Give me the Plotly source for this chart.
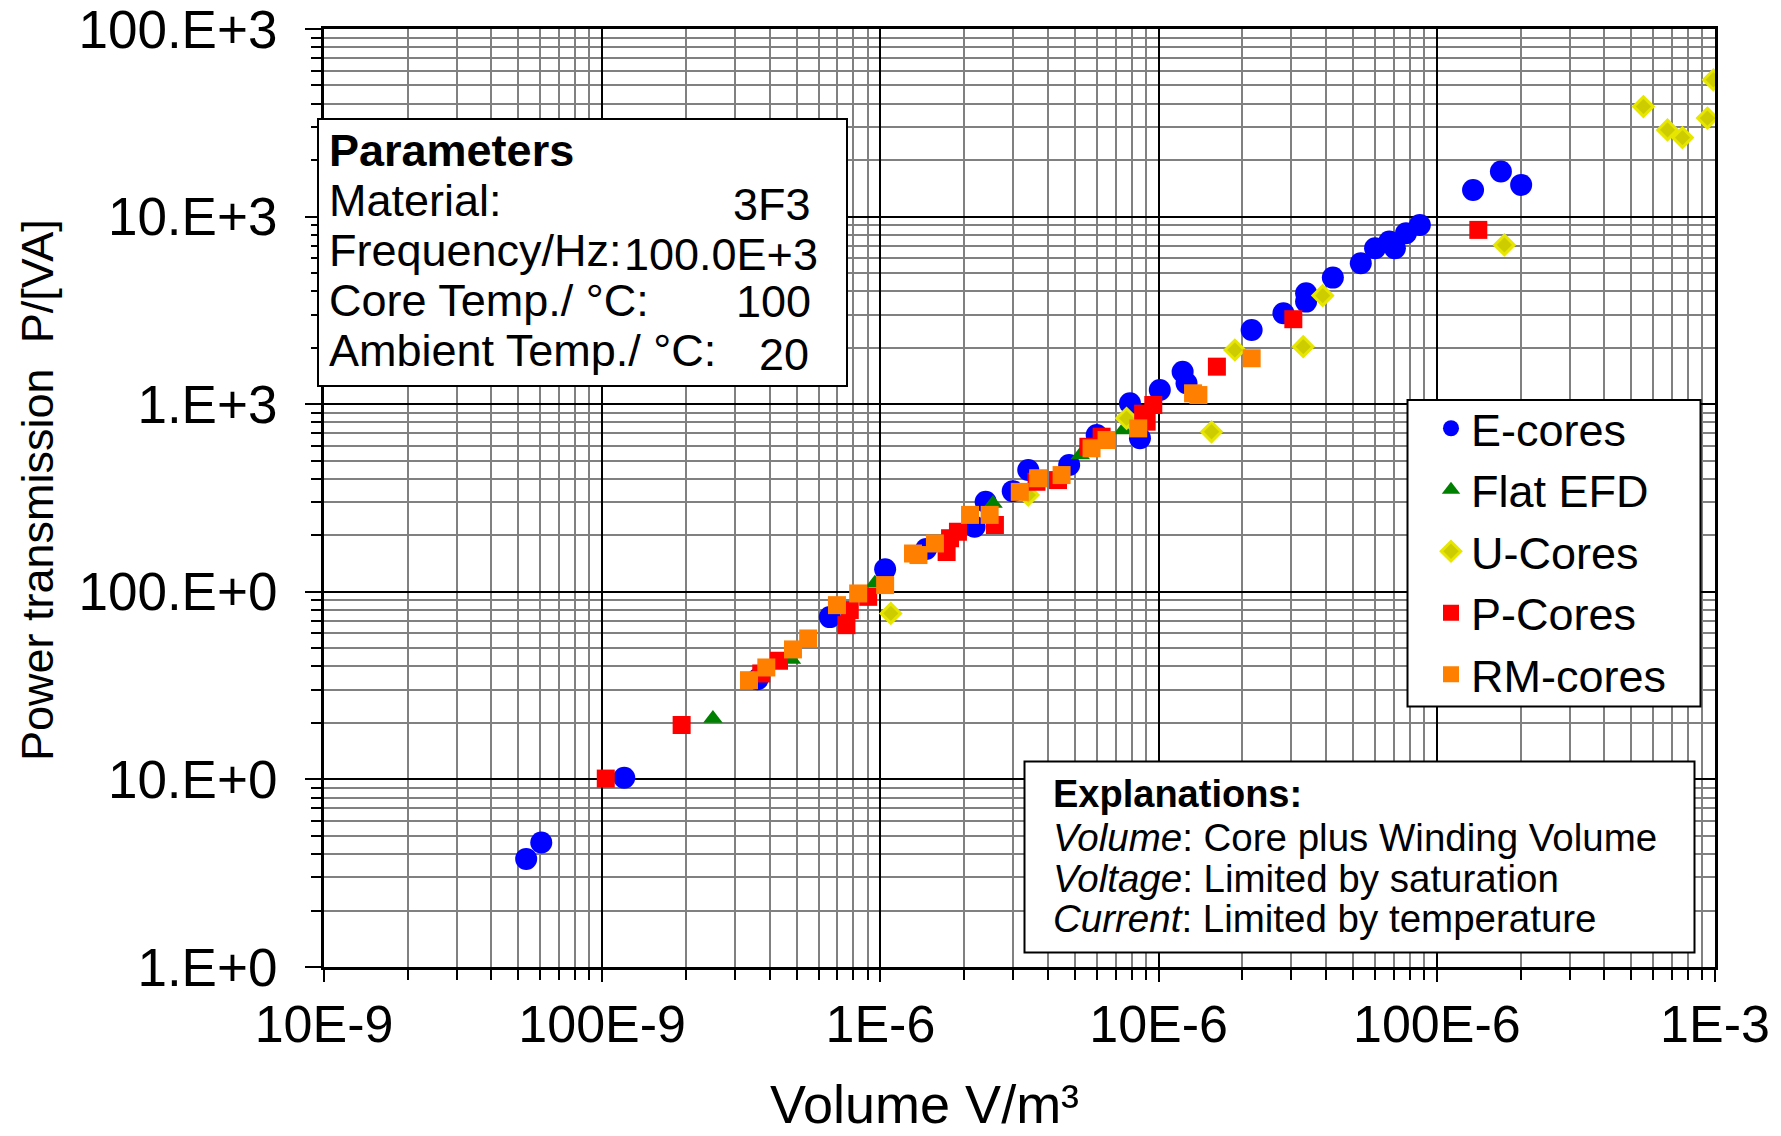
import plotly.graph_objects as go

# ---------------- data ----------------
e_vol = [5.33e-8, 6.04e-8, 1.20e-7, 3.62e-7, 6.58e-7, 1.04e-6, 1.46e-6, 2.18e-6, 2.39e-6, 2.99e-6,
         3.40e-6, 4.77e-6, 5.99e-6, 7.89e-6, 8.57e-6, 1.01e-5, 1.22e-5, 1.26e-5, 2.16e-5, 2.81e-5,
         3.39e-5, 3.39e-5, 4.23e-5, 5.33e-5, 6.00e-5, 6.75e-5, 7.07e-5, 7.75e-5, 8.69e-5, 1.35e-4,
         1.70e-4, 2.01e-4]
e_pow = [3.77, 4.61, 10.2, 34.2, 73.3, 132, 169, 222, 302, 344,
         446, 474, 685, 1011, 658, 1191, 1490, 1292, 2488, 3053,
         3900, 3523, 4729, 5639, 6781, 7360, 6781, 8150, 9030, 13870,
         17380, 14760]

efd_vol = [2.50e-7, 4.79e-7, 9.55e-7, 2.54e-6, 5.23e-6, 7.46e-6]
efd_pow = [21.1, 43.6, 111, 296, 536, 728]

u_vol = [1.09e-6, 3.40e-6, 7.67e-6, 1.55e-5, 1.88e-5, 3.31e-5, 3.89e-5, 1.75e-4,
         5.53e-4, 6.75e-4, 7.64e-4, 9.39e-4, 9.87e-4]
u_pow = [76.7, 328, 841, 713, 1945, 2026, 3793, 7063,
         38600, 28990, 26370, 33500, 53600]

p_vol = [1.03e-7, 1.93e-7, 3.73e-7, 4.32e-7, 7.55e-7, 7.76e-7, 9.04e-7, 1.73e-6, 1.78e-6, 1.90e-6,
         2.58e-6, 3.64e-6, 4.35e-6, 5.59e-6, 6.24e-6, 8.80e-6, 9.06e-6, 9.57e-6, 1.62e-5, 3.05e-5,
         1.41e-4]
p_pow = [10.1, 19.5, 36.7, 42.9, 66.4, 79.9, 94, 163, 193, 209,
         227, 386, 394, 593, 671, 890, 807, 990, 1585, 2838,
         8495]

rm_vol = [3.37e-7, 3.89e-7, 4.85e-7, 5.50e-7, 6.98e-7, 8.32e-7, 1.04e-6, 1.31e-6, 1.37e-6, 1.57e-6,
          2.10e-6, 2.47e-6, 3.17e-6, 3.69e-6, 4.48e-6, 5.74e-6, 6.50e-6, 8.45e-6, 1.33e-5, 1.39e-5,
          2.16e-5]
rm_pow = [33.8, 39.5, 49.3, 56.4, 84.9, 98, 108.6, 160, 157, 181,
          257, 257, 341, 403, 419, 582, 644, 743, 1143, 1119,
          1757]

x_tickvals = [1e-8, 1e-7, 1e-6, 1e-5, 1e-4, 1e-3]
x_ticktext = ["10E-9", "100E-9", "1E-6", "10E-6", "100E-6", "1E-3"]
y_tickvals = [1, 10, 100, 1e3, 1e4, 1e5]
y_ticktext = ["1.E+0", "10.E+0", "100.E+0", "1.E+3", "10.E+3", "100.E+3"]

param_labels = ["Material:", "Frequency/Hz:", "Core Temp./ °C:", "Ambient Temp./ °C:"]
param_values = ["3F3", "100.0E+3", "100", "20"]
expl_lines = ["<i>Volume</i>: Core plus Winding Volume",
              "<i>Voltage</i>: Limited by saturation",
              "<i>Current</i>: Limited by temperature"]

# ---------------- layout helpers ----------------
W, H = 1781, 1136
L, R, T, B = 324, 1715, 29, 967
FONT = "Arial, Liberation Sans, sans-serif"


def px(x):
    return (x - L) / (R - L)


def py(y):
    return (B - y) / (B - T)


minor_x = [k * 10.0 ** e for e in range(-8, -3) for k in range(2, 10)]
minor_y = [k * 10.0 ** e for e in range(0, 5) for k in range(2, 10)]

fig = go.Figure()
fig.add_trace(go.Scatter(x=e_vol, y=e_pow, mode="markers", name="E-cores",
                         marker=dict(symbol="circle", size=22, color="#0000ff")))
fig.add_trace(go.Scatter(x=efd_vol, y=efd_pow, mode="markers", name="Flat EFD",
                         marker=dict(symbol="triangle-up", size=17, color="#008000")))
fig.add_trace(go.Scatter(x=u_vol, y=u_pow, mode="markers", name="U-Cores",
                         marker=dict(symbol="diamond", size=15, color="#cccc00",
                                     line=dict(color="#e6e600", width=3))))
fig.add_trace(go.Scatter(x=p_vol, y=p_pow, mode="markers", name="P-Cores",
                         marker=dict(symbol="square", size=18, color="#ff0000")))
fig.add_trace(go.Scatter(x=rm_vol, y=rm_pow, mode="markers", name="RM-cores",
                         marker=dict(symbol="square", size=18, color="#ff8000")))

axis_common = dict(
    type="log", showline=True, linecolor="black", linewidth=3, mirror=True,
    showgrid=True, gridcolor="black", gridwidth=2,
    ticks="outside", tickwidth=2, tickcolor="black",
    zeroline=False, automargin=False, ticklabeloverflow="allow",
)

fig.update_xaxes(range=[-8, -3], tickvals=x_tickvals, ticktext=x_ticktext,
                 ticklen=12, ticklabelstandoff=-2,
                 tickfont=dict(family=FONT, size=52, color="black"),
                 minor=dict(tickvals=minor_x, showgrid=True, gridcolor="#808080", gridwidth=2,
                            ticks="outside", ticklen=10, tickwidth=1.5, tickcolor="black"),
                 **axis_common)
fig.update_yaxes(range=[0, 5], tickvals=y_tickvals, ticktext=y_ticktext,
                 ticklen=16, ticklabelstandoff=17,
                 tickfont=dict(family=FONT, size=53, color="black"),
                 minor=dict(tickvals=minor_y, showgrid=True, gridcolor="#808080", gridwidth=2,
                            ticks="outside", ticklen=10, tickwidth=1.5, tickcolor="black"),
                 **axis_common)

shapes = [
    # Parameters box
    dict(type="rect", xref="paper", yref="paper", x0=px(318), x1=px(847), y0=py(386), y1=py(119),
         fillcolor="white", line=dict(color="black", width=2), layer="above"),
    # Explanations box
    dict(type="rect", xref="paper", yref="paper", x0=px(1024.5), x1=px(1694.5), y0=py(952.5), y1=py(761.5),
         fillcolor="white", line=dict(color="black", width=2), layer="above"),
    # Legend box
    dict(type="rect", xref="paper", yref="paper", x0=px(1407.5), x1=px(1700.5), y0=py(706.5), y1=py(400),
         fillcolor="white", line=dict(color="black", width=2), layer="above"),
]

annotations = []


def note(text, x, y, size, xanchor="left", **kw):
    annotations.append(dict(text=text, x=px(x), y=py(y), xref="paper", yref="paper",
                            xanchor=xanchor, yanchor="middle", showarrow=False,
                            font=dict(family=FONT, size=size, color="black"), **kw))


note("<b>Parameters</b>", 327, 151, 45)
label_y = [201, 251, 300, 350]
value_y = [205, 254, 301, 354]
value_right = [813, 820, 813, 811]
for lab, ly in zip(param_labels, label_y):
    note(lab, 327, ly, 45)
for val, vy, vr in zip(param_values, value_y, value_right):
    note(val, vr, vy, 45, xanchor="right")

note("<b>Explanations:</b>", 1051, 794, 38)
for line, ly in zip(expl_lines, [837, 878, 918]):
    note(line, 1051, ly, 38.5)

note("Volume V/m³", 924, 1104, 54, xanchor="center")
note("Power transmission  P/[VA]", 37, 490, 45, xanchor="center", textangle=-90)

fig.update_layout(
    width=W, height=H,
    margin=dict(l=L, r=W - R, t=T, b=H - B, pad=0, autoexpand=False),
    plot_bgcolor="white", paper_bgcolor="white",
    showlegend=True,
    legend=dict(x=px(1431), y=py(392.5), xanchor="left", yanchor="top",
                bgcolor="rgba(0,0,0,0)", borderwidth=0,
                font=dict(family=FONT, size=45, color="black")),
    shapes=shapes, annotations=annotations,
)

fig.write_html("out.html", config={"displayModeBar": False},
               post_script="document.body.style.margin='0';")
